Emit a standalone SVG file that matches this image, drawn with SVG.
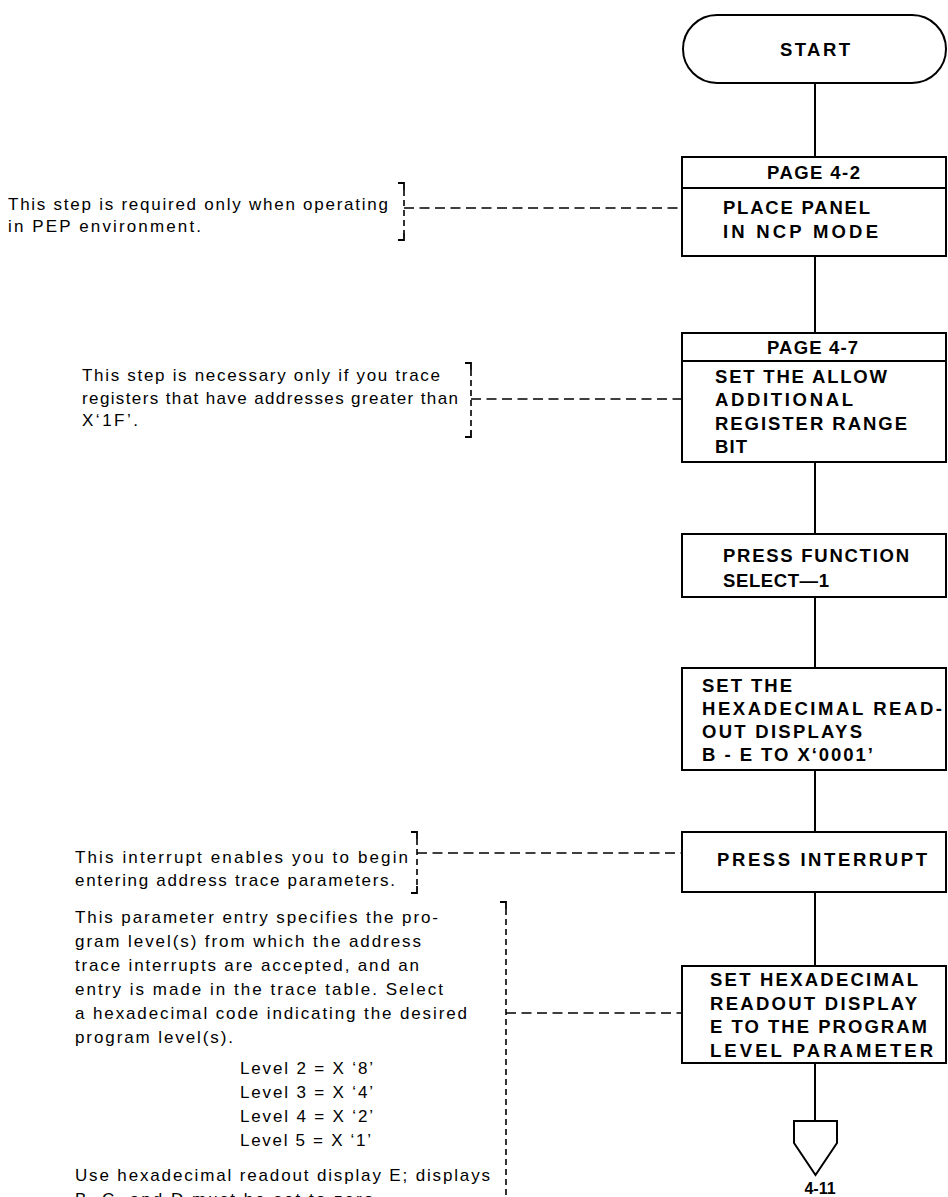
<svg xmlns="http://www.w3.org/2000/svg" width="948" height="1197" viewBox="0 0 948 1197">
<style>
.box{fill:none;stroke:#000;stroke-width:2}
.ln{fill:none;stroke:#000;stroke-width:2}
.dash{fill:none;stroke:#000;stroke-width:1.6;stroke-dasharray:10,5.5}
.bv{fill:none;stroke:#000;stroke-width:1.6;stroke-dasharray:6,4}
.hook{fill:none;stroke:#000;stroke-width:1.8}
.bt{font-family:"Liberation Sans",Arial,sans-serif;font-weight:bold;font-size:18.5px;fill:#000}
.ct{text-anchor:middle}
.nt{font-family:"Liberation Sans",Arial,sans-serif;font-size:17px;fill:#000}
</style>
<rect width="948" height="1197" fill="#fff"/>
<g id="connectors">
<path class="ln" d="M815 83V157M815 256V333M815 462V534M815 597V668M815 770V832M815 892V966M815 1063V1121"/>
<path class="dash" d="M404 208H682M471 399H682M417 853H682M506 1013H682"/>
</g>
<g id="start"><rect class="box" x="683" y="15" width="263" height="68" rx="34"/><text class="bt" x="780" y="56" textLength="70" lengthAdjust="spacing">START</text></g>
<g id="n1"><rect class="box" x="682" y="157" width="264" height="99"/><line class="ln" x1="682" y1="188" x2="946" y2="188"/><text class="bt" x="767" y="179" textLength="93" lengthAdjust="spacing">PAGE 4-2</text><text class="bt" x="723" y="214" textLength="147" lengthAdjust="spacing">PLACE PANEL</text><text class="bt" x="723" y="238" textLength="155" lengthAdjust="spacing">IN NCP MODE</text></g>
<g id="n2"><rect class="box" x="682" y="333" width="264" height="129"/><line class="ln" x1="682" y1="361" x2="946" y2="361"/><text class="bt" x="767" y="354" textLength="91" lengthAdjust="spacing">PAGE 4-7</text><text class="bt" x="715" y="383" textLength="172" lengthAdjust="spacing">SET THE ALLOW</text><text class="bt" x="715" y="406" textLength="138" lengthAdjust="spacing">ADDITIONAL</text><text class="bt" x="715" y="430" textLength="192" lengthAdjust="spacing">REGISTER RANGE</text><text class="bt" x="715" y="453" textLength="32" lengthAdjust="spacing">BIT</text></g>
<g id="n3"><rect class="box" x="682" y="534" width="264" height="63"/><text class="bt" x="723" y="562" textLength="186" lengthAdjust="spacing">PRESS FUNCTION</text><text class="bt" x="723" y="587" textLength="106" lengthAdjust="spacing">SELECT—1</text></g>
<g id="n4"><rect class="box" x="682" y="668" width="264" height="102"/><text class="bt" x="702" y="692" textLength="90" lengthAdjust="spacing">SET THE</text><text class="bt" x="702" y="715" textLength="240" lengthAdjust="spacing">HEXADECIMAL READ-</text><text class="bt" x="702" y="738" textLength="160" lengthAdjust="spacing">OUT DISPLAYS</text><text class="bt" x="702" y="761" textLength="171" lengthAdjust="spacing">B - E TO X‘0001’</text></g>
<g id="n5"><rect class="box" x="682" y="832" width="264" height="60"/><text class="bt" x="717" y="866" textLength="210" lengthAdjust="spacing">PRESS INTERRUPT</text></g>
<g id="n6"><rect class="box" x="682" y="966" width="264" height="97"/><text class="bt" x="710" y="986" textLength="208" lengthAdjust="spacing">SET HEXADECIMAL</text><text class="bt" x="710" y="1010" textLength="207" lengthAdjust="spacing">READOUT DISPLAY</text><text class="bt" x="710" y="1033" textLength="217" lengthAdjust="spacing">E TO THE PROGRAM</text><text class="bt" x="710" y="1057" textLength="223" lengthAdjust="spacing">LEVEL PARAMETER</text></g>
<g id="offpage"><path class="box" d="M794 1121H837V1143L815.5 1175L794 1143Z"/><text class="bt ct" x="820" y="1194" style="font-size:16px">4-11</text></g>
<g id="note1"><path class="hook" d="M398 183H404V190M404 233V240H398"/><path class="bv" d="M404 190V233"/><text class="nt" x="8" y="210" textLength="380" lengthAdjust="spacing">This step is required only when operating</text><text class="nt" x="8" y="232" textLength="193" lengthAdjust="spacing">in PEP environment.</text></g>
<g id="note2"><path class="hook" d="M465 363H471V370M471 430V437H465"/><path class="bv" d="M471 370V430"/><text class="nt" x="82" y="381" textLength="358" lengthAdjust="spacing">This step is necessary only if you trace</text><text class="nt" x="82" y="404" textLength="376" lengthAdjust="spacing">registers that have addresses greater than</text><text class="nt" x="82" y="426" textLength="56" lengthAdjust="spacing">X‘1F’.</text></g>
<g id="note3"><path class="hook" d="M411 832H417V839M417 886V893H411"/><path class="bv" d="M417 839V886"/><text class="nt" x="75" y="863" textLength="333" lengthAdjust="spacing">This interrupt enables you to begin</text><text class="nt" x="75" y="886" textLength="320" lengthAdjust="spacing">entering address trace parameters.</text></g>
<g id="note4"><path class="hook" d="M500 902H506V909"/><path class="bv" d="M506 909V1197"/><text class="nt" x="75" y="923" textLength="363" lengthAdjust="spacing">This parameter entry specifies the pro-</text><text class="nt" x="75" y="947" textLength="346" lengthAdjust="spacing">gram level(s) from which the address</text><text class="nt" x="75" y="971" textLength="344" lengthAdjust="spacing">trace interrupts are accepted, and an</text><text class="nt" x="75" y="995" textLength="368" lengthAdjust="spacing">entry is made in the trace table.  Select</text><text class="nt" x="75" y="1019" textLength="392" lengthAdjust="spacing">a hexadecimal code indicating the desired</text><text class="nt" x="75" y="1043" textLength="158" lengthAdjust="spacing">program level(s).</text><text class="nt" x="240" y="1074" textLength="133" lengthAdjust="spacing">Level 2 = X ‘8’</text><text class="nt" x="240" y="1098" textLength="133" lengthAdjust="spacing">Level 3 = X ‘4’</text><text class="nt" x="240" y="1122" textLength="133" lengthAdjust="spacing">Level 4 = X ‘2’</text><text class="nt" x="240" y="1146" textLength="131" lengthAdjust="spacing">Level 5 = X ‘1’</text><text class="nt" x="75" y="1181" textLength="415" lengthAdjust="spacing">Use hexadecimal readout display E; displays</text><text class="nt" x="75" y="1205" textLength="305" lengthAdjust="spacing">B, C, and D must be set to zero.</text></g>
</svg>
